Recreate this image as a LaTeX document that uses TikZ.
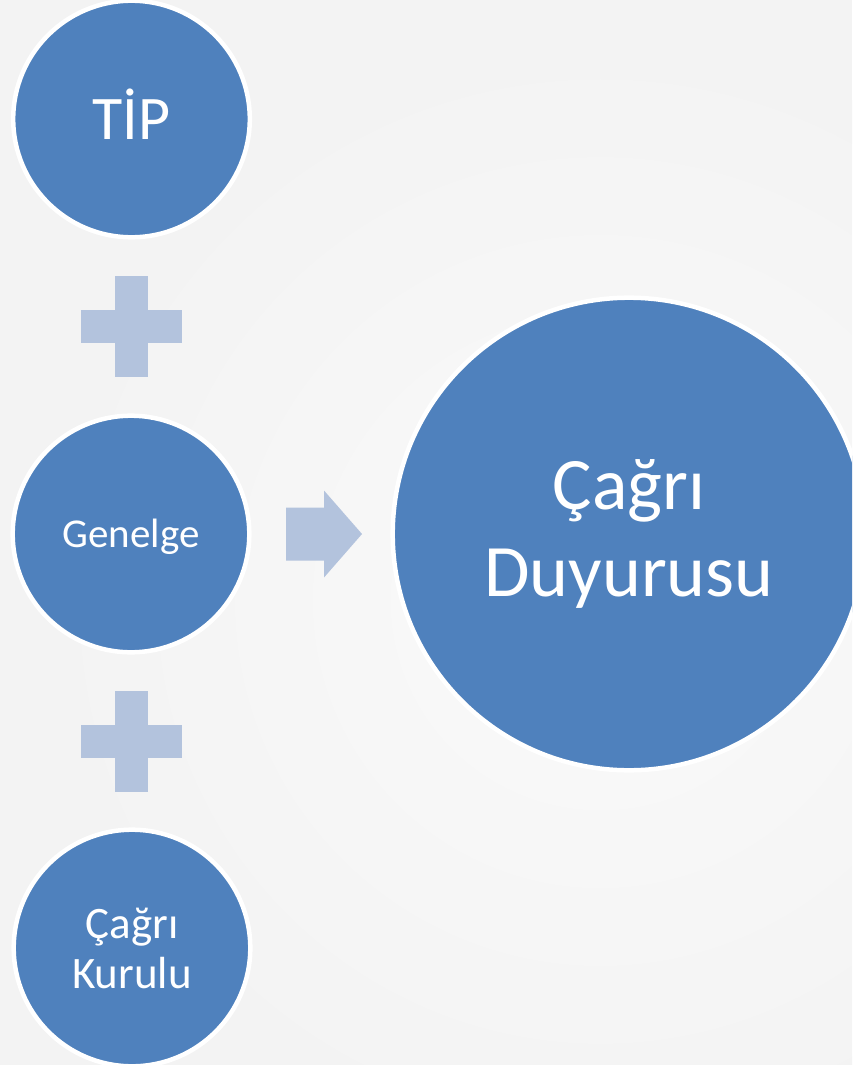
\documentclass[tikz,border=0pt]{standalone}
\usepackage{fontspec}
\setmainfont{Carlito}
\usetikzlibrary{calc}

\definecolor{circblue}{HTML}{4F81BD}
\definecolor{signblue}{HTML}{B3C3DD}
\definecolor{backgray}{HTML}{F3F3F3}

\tikzset{
  stepcirc/.style={circle, fill=circblue, draw=white, line width=4.5pt,
    inner sep=0pt, text=white, align=center},
  sign/.style={fill=signblue}
}

\begin{document}
\begin{tikzpicture}[x=1pt, y=-1pt]
% Parameters
\def\smallsize{236.6}
\def\bigsize{472.6}

% === Background ===
\clip (0,0) rectangle (852,1065);
\fill[backgray] (0,0) rectangle (852,1065);
\shade[inner color=white!60!backgray, outer color=backgray] (600,600) circle (560);

% === Inputs ===
\node[stepcirc, minimum size=\smallsize, font=\fontsize{62}{74}\selectfont,
  text height=40pt, text depth=0pt]
  (Tip) at (131.5,119) {TİP};
\node[stepcirc, minimum size=\smallsize, font=\fontsize{41}{49}\selectfont,
  text height=27pt, text depth=0pt]
  (Genelge) at (131,534) {Genelge};
\node[stepcirc, minimum size=\smallsize, font=\fontsize{45}{50}\selectfont]
  (Kurul) at (132,948) {Çağrı\\Kurulu};

% === Result ===
\node[stepcirc, minimum size=\bigsize, font=\fontsize{74}{87}\selectfont]
  (Duyuru) at (629,534) {Çağrı\\Duyurusu};

% === Plus signs ===
\foreach \a/\b in {Tip/Genelge, Genelge/Kurul}{
  \coordinate (plus-\a) at ($(\a)!0.5!(\b)$);
  \fill[sign] ($(plus-\a)+(-50.5,-16.5)$) rectangle ($(plus-\a)+(50.5,16.5)$);
  \fill[sign] ($(plus-\a)+(-16.5,-50.5)$) rectangle ($(plus-\a)+(16.5,50.5)$);
}

% === Arrow ===
\coordinate (arrow) at (324,534);
\fill[sign] ($(arrow)+(-38,-26.5)$) -- ($(arrow)+(0,-26.5)$)
  -- ($(arrow)+(0,-43.5)$) -- ($(arrow)+(38,0)$) -- ($(arrow)+(0,43.5)$)
  -- ($(arrow)+(0,26.5)$) -- ($(arrow)+(-38,26.5)$) -- cycle;
\end{tikzpicture}
\end{document}
